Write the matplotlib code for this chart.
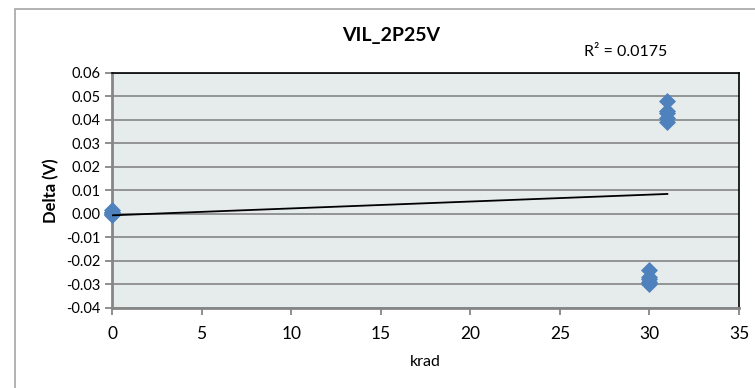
import matplotlib.pyplot as plt
import matplotlib.patches as patches
import numpy as np

# readings (krad vs delta V)
krad = [0, 0, 0, 0, 0,
        30, 30, 30, 30, 30,
        31, 31, 31, 31, 31]
delta = [0.0015, 0.0005, 0.0, -0.0005, 0.0008,
         -0.024, -0.027, -0.028, -0.029, -0.030,
         0.048, 0.044, 0.043, 0.041, 0.039]
r2_label = "R² = 0.0175"
title = "VIL_2P25V"

plt.rcParams['font.family'] = ['Lato', 'DejaVu Sans']

fig = plt.figure(figsize=(7.55, 3.88), dpi=100)
# outer chart frame
fig.patches.append(patches.Rectangle((15 / 755, -0.1), 1.2, 1 - 9 / 388 + 0.1,
                                     transform=fig.transFigure, fill=False,
                                     edgecolor='#a6a6a6', linewidth=1.2))

ax = fig.add_axes([112 / 755, 1 - 307.5 / 388, (739 - 112) / 755, (307.5 - 73) / 388])
ax.set_facecolor('#e6ebeb')

ax.set_xlim(0, 35)
ax.set_ylim(-0.04, 0.06)
ax.set_xticks(np.arange(0, 36, 5))
ax.set_yticks(np.arange(-0.04, 0.061, 0.01))
ax.yaxis.set_major_formatter(plt.FuncFormatter(lambda v, p: "%.2f" % (0 if abs(v) < 1e-9 else v)))
ax.grid(axis='y', color='#8c8c8c', linewidth=1.3)
ax.set_axisbelow(True)

for s in ['left', 'bottom']:
    ax.spines[s].set_color('#868686')
    ax.spines[s].set_linewidth(2)
for s in ['top', 'right']:
    ax.spines[s].set_color('black')
    ax.spines[s].set_linewidth(1.2)

ax.tick_params(axis='both', color='#868686', width=1.3, length=5, direction='out')
ax.tick_params(axis='x', labelsize=12.5, pad=8)
ax.tick_params(axis='y', labelsize=10.5, pad=3)

ax.scatter(krad, delta, marker='D', s=75, color='#4f81bd', zorder=3, clip_on=False,
           linewidths=0)

# linear trendline
k, b = np.polyfit(krad, delta, 1)
xs = np.array([min(krad), max(krad)])
ax.plot(xs, k * xs + b, color='black', linewidth=1.3, zorder=4)

ax.set_xlabel("krad", fontsize=11.5, labelpad=10)
ax.set_ylabel("Delta (V)", fontsize=12, fontweight='bold', labelpad=5)

fig.text(391 / 755, 1 - 36 / 388, title, ha='center', va='center', fontsize=14, fontweight='bold')
fig.text(626 / 755, 1 - 52 / 388, r2_label, ha='center', va='center', fontsize=11.5)

fig.savefig("out.png", dpi=100)
